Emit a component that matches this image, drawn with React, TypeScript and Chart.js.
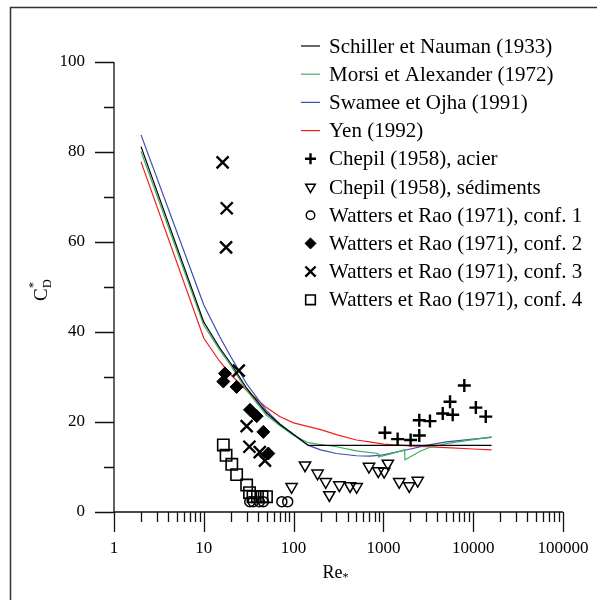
import React, { useEffect, useRef } from 'react';
import { Chart, registerables } from 'chart.js';
import { drawPoint } from 'chart.js/helpers';

Chart.register(...registerables);

const FONT = '"Liberation Serif", "Times New Roman", serif';

// ---- Curves ----
const schillerRe = [2, 10, 15, 20, 30, 50, 70, 100, 146, 16000];
const schillerCd = [81.2, 42.2, 36.5, 33, 27.5, 22, 19.5, 17.3, 14.8, 14.8];

const morsiRe = [2, 10, 15, 20, 30, 50, 70, 100, 146, 200, 300, 500, 870, 880, 1200, 1720, 1740, 2500, 3300, 5000, 10000, 16000];
const morsiCd = [80.1, 41.5, 36, 32.5, 27, 21.5, 19.2, 17.0, 15.4, 15.0, 14.5, 13.6, 13.0, 12.2, 12.9, 13.8, 11.6, 13.4, 14.4, 15.2, 16.1, 16.7];

const swameeRe = [2, 10, 15, 20, 30, 50, 70, 100, 146, 200, 300, 500, 700, 1000, 2000, 3000, 5000, 10000, 16000];
const swameeCd = [83.8, 46, 39, 34.5, 28.5, 22.5, 19.6, 17.1, 14.8, 13.8, 13.0, 12.5, 12.4, 12.7, 14.0, 14.8, 15.6, 16.2, 16.6];

const yenRe = [2, 10, 15, 20, 30, 50, 70, 100, 150, 200, 300, 500, 700, 1000, 2000, 5000, 10000, 16000];
const yenCd = [77.8, 38.6, 33.5, 30.5, 27, 23.2, 21.2, 19.8, 18.9, 18.3, 17.2, 16.0, 15.6, 15.1, 14.7, 14.3, 14.0, 13.8];

// ---- Experimental points ----
const chepilAcierRe = [1040, 1440, 2010, 2510, 2510, 3300, 4580, 5910, 5520, 7960, 10700, 13800];
const chepilAcierCd = [17.6, 16.2, 16.0, 17.0, 20.4, 20.2, 21.9, 21.6, 24.5, 28.1, 23.2, 21.2];

const chepilSedRe = [95, 134, 185, 228, 250, 323, 425, 504, 691, 877, 1020, 1120, 1500, 1940, 2410];
const chepilSedCd = [5.6, 10.4, 8.6, 6.7, 3.8, 6.0, 5.8, 5.6, 10.1, 9.1, 9.0, 10.8, 6.7, 5.8, 7.0];

const watters1Re = [32.5, 35.5, 41.5, 46, 74, 86];
const watters1Cd = [2.3, 2.3, 2.3, 2.3, 2.3, 2.3];

const watters2Re = [17.2, 16.5, 23.2, 32.7, 38.8, 46.0, 52.3];
const watters2Cd = [30.8, 29.0, 27.8, 22.7, 21.3, 17.8, 13.0];

const watters3Re = [16.2, 18.0, 17.7, 24.5, 30, 32.2, 42, 48];
const watters3Cd = [77.7, 67.5, 58.8, 31.4, 19.1, 14.5, 13.3, 11.4];

const watters4Re = [16.5, 17.7, 20.5, 23.2, 30.0, 32.3, 35.3, 39.6, 44.5, 49.9];
const watters4Cd = [14.9, 12.6, 10.6, 8.3, 6.0, 4.3, 3.4, 3.4, 3.4, 3.4];

const yTickValues = [0, 10, 20, 30, 40, 50, 60, 70, 80, 90, 100];
const xDecades = [1, 10, 100, 1000, 10000, 100000];
const xDecadeLabels = ['1', '10', '100', '1000', '10000', '100000'];

const zip = (xs: number[], ys: number[]) => xs.map((x, i) => ({ x, y: ys[i] }));

const lineDs = (label: string, xs: number[], ys: number[], color: string) => ({
  label,
  data: zip(xs, ys),
  showLine: true,
  borderColor: color,
  backgroundColor: color,
  borderWidth: 1.2,
  pointRadius: 0,
  tension: 0,
  fill: false,
  order: 2,
});

const ptDs = (label: string, xs: number[], ys: number[], style: any, radius: number, bw: number, filled: boolean, rotation = 0) => ({
  label,
  data: zip(xs, ys),
  showLine: false,
  pointStyle: style,
  pointRadius: radius,
  pointRotation: rotation,
  pointBorderWidth: bw,
  borderWidth: bw,
  pointBorderColor: '#000',
  borderColor: '#000',
  pointBackgroundColor: filled ? '#000' : 'rgba(0,0,0,0)',
  backgroundColor: filled ? '#000' : 'rgba(0,0,0,0)',
  order: 1,
  clip: false as any,
});

const framePlugin = {
  id: 'frame',
  beforeDraw(chart: any) {
    const ctx = chart.ctx;
    ctx.save();
    ctx.fillStyle = '#fff';
    ctx.fillRect(0, 0, chart.width, chart.height);
    ctx.strokeStyle = '#333';
    ctx.lineWidth = 1.5;
    ctx.beginPath();
    ctx.moveTo(10.5, chart.height);
    ctx.lineTo(10.5, 7.5);
    ctx.lineTo(chart.width, 7.5);
    ctx.stroke();
    ctx.restore();
  },
};

const axesPlugin = {
  id: 'axesDraw',
  beforeDatasetsDraw(chart: any) {
    const ctx = chart.ctx;
    const xs = chart.scales.x;
    const ys = chart.scales.y;
    const { left, right, top, bottom } = chart.chartArea;
    ctx.save();
    ctx.strokeStyle = '#111';
    ctx.lineWidth = 1.3;
    ctx.beginPath();
    ctx.moveTo(left, ys.getPixelForValue(100));
    ctx.lineTo(left, ys.getPixelForValue(0));
    ctx.moveTo(xs.getPixelForValue(1), bottom);
    ctx.lineTo(xs.getPixelForValue(100000), bottom);
    yTickValues.forEach((v) => {
      const y = Math.round(ys.getPixelForValue(v)) + 0.5;
      const len = v % 20 === 0 ? 19 : 10;
      ctx.moveTo(left - len, y);
      ctx.lineTo(left, y);
    });
    xDecades.forEach((d, di) => {
      for (let m = 1; m <= 9; m++) {
        if (di === xDecades.length - 1 && m > 1) break;
        const x = Math.round(xs.getPixelForValue(d * m)) + 0.5;
        const len = m === 1 ? 20 : 10;
        ctx.moveTo(x, bottom);
        ctx.lineTo(x, bottom + len);
      }
    });
    ctx.stroke();

    ctx.fillStyle = '#000';
    ctx.font = `17px ${FONT}`;
    ctx.textAlign = 'right';
    ctx.textBaseline = 'middle';
    yTickValues.forEach((v) => {
      if (v % 20 !== 0) return;
      ctx.fillText(String(v), left - 29, ys.getPixelForValue(v));
    });
    ctx.textAlign = 'center';
    xDecades.forEach((d, i) => {
      ctx.fillText(xDecadeLabels[i], xs.getPixelForValue(d), bottom + 37);
    });

    const cx = (left + right) / 2 - 2;
    ctx.font = `18px ${FONT}`;
    ctx.textAlign = 'right';
    ctx.fillText('Re', cx + 6, bottom + 61);
    ctx.font = `12px ${FONT}`;
    ctx.textAlign = 'left';
    ctx.fillText('*', cx + 6, bottom + 66);

    ctx.save();
    ctx.translate(40, (top + bottom) / 2 + 6);
    ctx.rotate(-Math.PI / 2);
    ctx.font = `19px ${FONT}`;
    ctx.textAlign = 'left';
    ctx.textBaseline = 'alphabetic';
    ctx.fillText('C', -8, 7);
    ctx.font = `12px ${FONT}`;
    ctx.fillText('D', 5, 11);
    ctx.fillText('*', 5, -3);
    ctx.restore();

    ctx.restore();
  },
};

const legendPlugin = {
  id: 'customLegend',
  afterDraw(chart: any) {
    const ctx = chart.ctx;
    ctx.save();
    const x0 = 301;
    const y0 = 46;
    const dy = 28.2;
    chart.data.datasets.forEach((ds: any, i: number) => {
      const y = y0 + i * dy;
      if (ds.showLine) {
        ctx.strokeStyle = ds.borderColor;
        ctx.lineWidth = 1.2;
        ctx.beginPath();
        ctx.moveTo(x0, y);
        ctx.lineTo(x0 + 19, y);
        ctx.stroke();
      } else {
        ctx.strokeStyle = ds.pointBorderColor;
        ctx.fillStyle = ds.pointBackgroundColor;
        ctx.lineWidth = ds.pointBorderWidth;
        drawPoint(ctx, {
          pointStyle: ds.pointStyle,
          rotation: ds.pointRotation,
          radius: ds.pointRadius * 0.85,
          borderWidth: ds.pointBorderWidth,
        } as any, x0 + 9.5, y);
      }
      ctx.fillStyle = '#000';
      ctx.font = `21px ${FONT}`;
      ctx.textAlign = 'left';
      ctx.textBaseline = 'middle';
      ctx.fillText(ds.label, 329, y + 1);
    });
    ctx.restore();
  },
};

export default function App() {
  const ref = useRef<HTMLCanvasElement>(null);
  useEffect(() => {
    const canvas = ref.current!;
    const datasets: any[] = [
      lineDs('Schiller et Nauman (1933)', schillerRe, schillerCd, '#000000'),
      lineDs('Morsi et Alexander (1972)', morsiRe, morsiCd, '#3cb060'),
      lineDs('Swamee et Ojha (1991)', swameeRe, swameeCd, '#3a4fb0'),
      lineDs('Yen (1992)', yenRe, yenCd, '#ee2020'),
      ptDs('Chepil (1958), acier', chepilAcierRe, chepilAcierCd, 'cross', 6.5, 2.4, false),
      ptDs('Chepil (1958), sédiments', chepilSedRe, chepilSedCd, 'triangle', 6.5, 1.5, false, 180),
      ptDs('Watters et Rao (1971), conf. 1', watters1Re, watters1Cd, 'circle', 5, 1.5, false),
      ptDs('Watters et Rao (1971), conf. 2', watters2Re, watters2Cd, 'rectRot', 6.5, 1, true),
      ptDs('Watters et Rao (1971), conf. 3', watters3Re, watters3Cd, 'crossRot', 8.5, 2.4, false),
      ptDs('Watters et Rao (1971), conf. 4', watters4Re, watters4Cd, 'rect', 8, 1.6, false),
    ];
    const chart = new Chart(canvas, {
      type: 'scatter',
      data: { datasets },
      options: {
        responsive: false,
        animation: false,
        devicePixelRatio: 1,
        layout: { padding: { left: 114, top: 62, right: 34, bottom: 88 } },
        scales: {
          x: { type: 'logarithmic', min: 1, max: 100000, display: false },
          y: { type: 'linear', min: 0, max: 100, display: false },
        },
        plugins: { legend: { display: false }, tooltip: { enabled: false } },
        events: [],
      },
      plugins: [framePlugin, axesPlugin, legendPlugin],
    } as any);
    return () => chart.destroy();
  }, []);
  return (
    <div style={{ position: 'absolute', left: 0, top: 0, width: 597, height: 600, background: '#fff' }}>
      <canvas ref={ref} width={597} height={600} style={{ display: 'block', width: 597, height: 600 }} />
    </div>
  );
}
